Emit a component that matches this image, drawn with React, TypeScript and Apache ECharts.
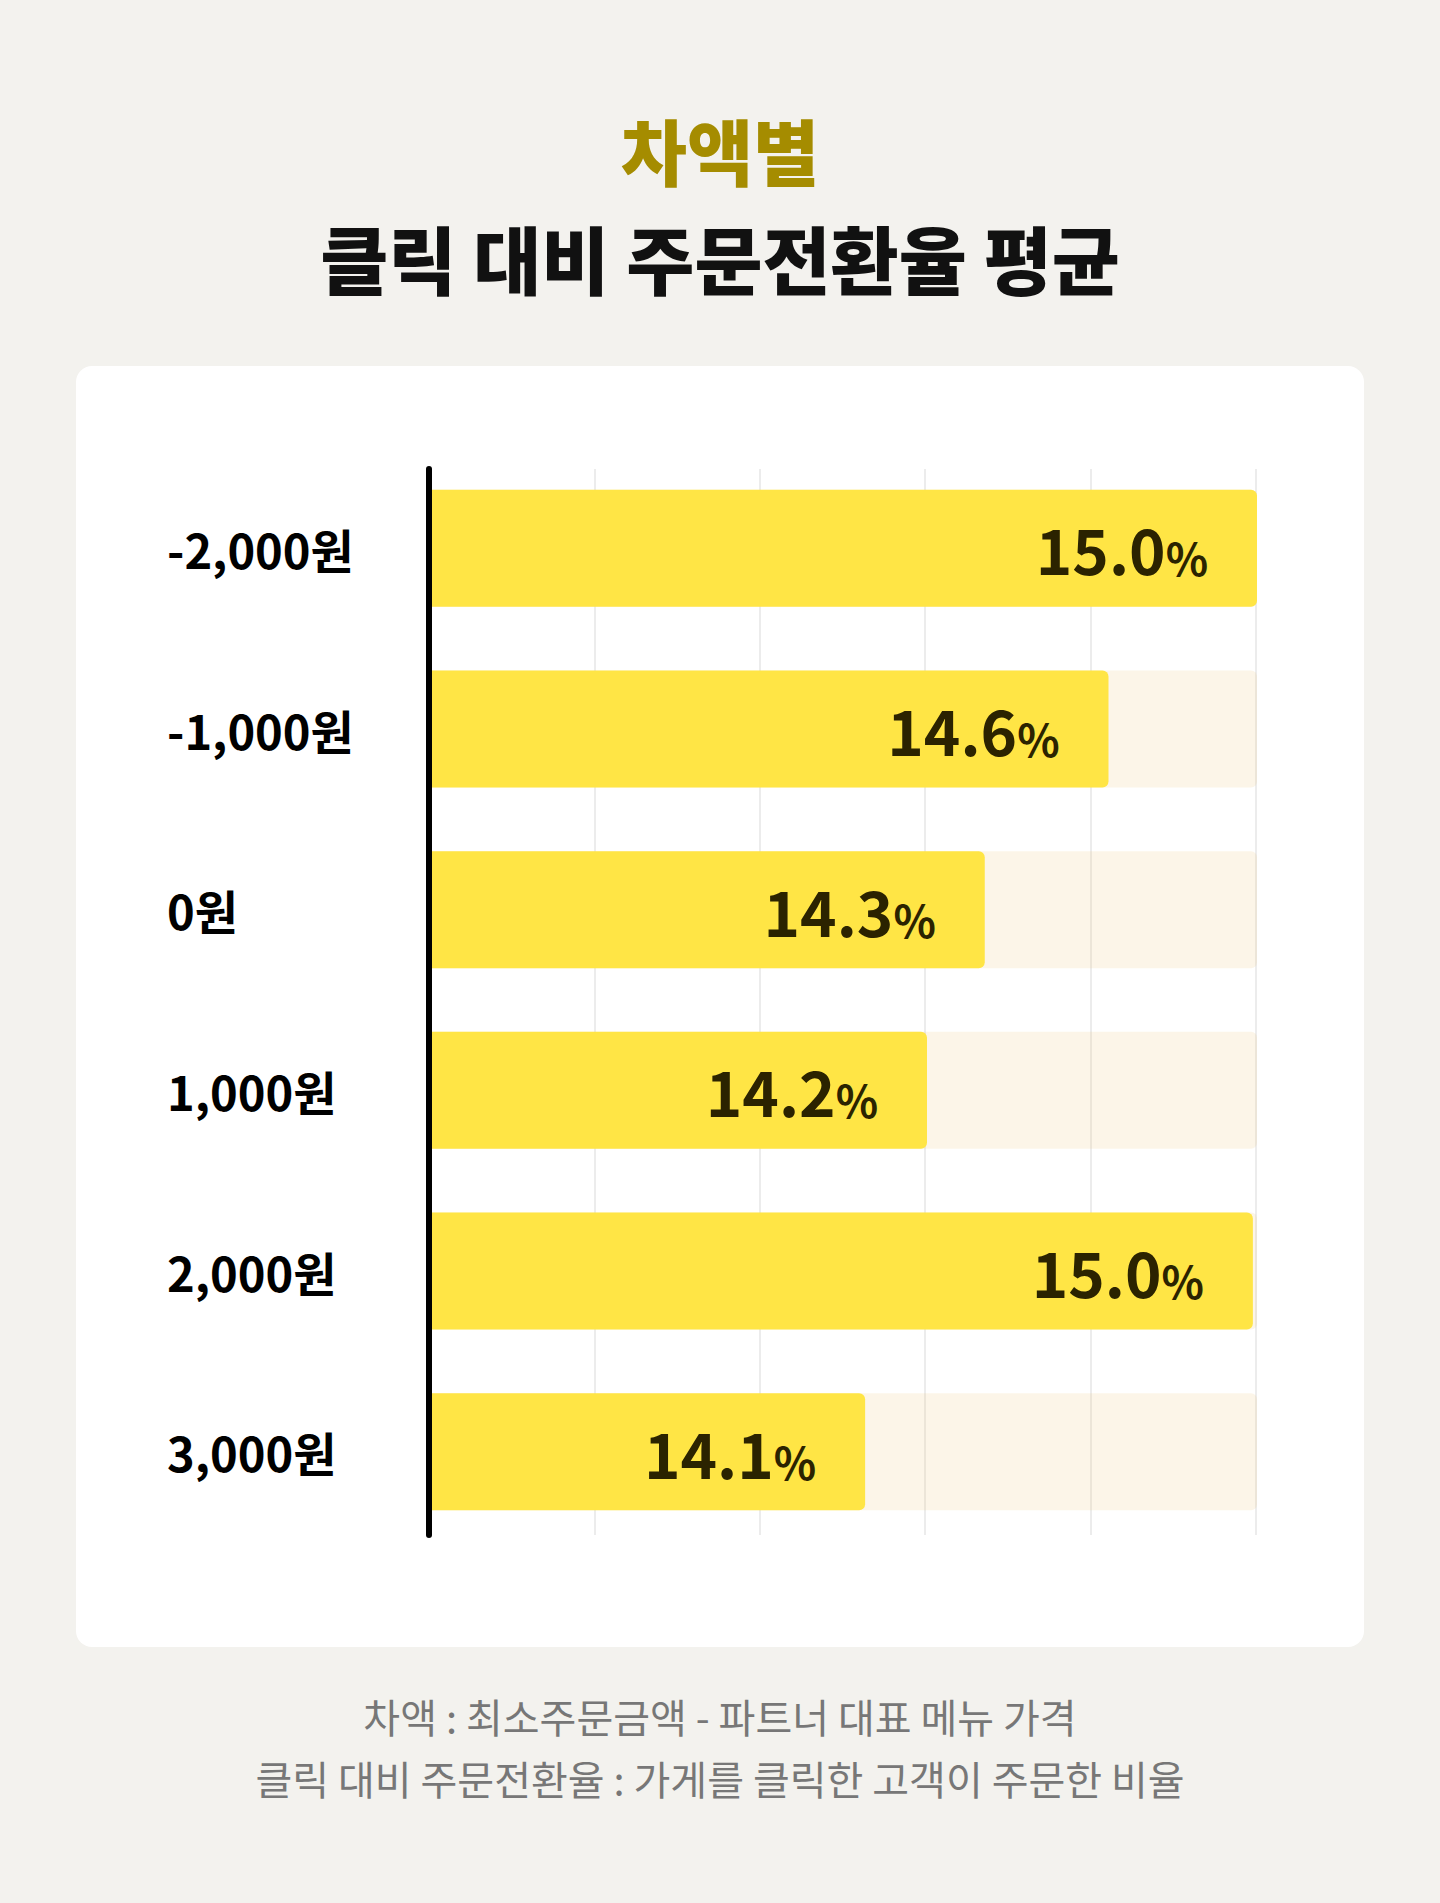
import { useEffect, useRef } from 'react'
import * as echarts from 'echarts'

// 차액 구간 (최소주문금액 - 대표 메뉴 가격)
const categories = ['-2,000원', '-1,000원', '0원', '1,000원', '2,000원', '3,000원']
// 클릭 대비 주문전환율 (%), labels show one decimal
const rates = [15.0, 14.64, 14.34, 14.2, 14.99, 14.05]
const axisMin = 13
const axisMax = 15
const gridSteps = 5

const titleTop = '차액별'
const titleMain = '클릭 대비 주문전환율 평균'
const notes = [
  '차액 : 최소주문금액 - 파트너 대표 메뉴 가격',
  '클릭 대비 주문전환율 : 가게를 클릭한 고객이 주문한 비율',
]

const FONT = "'Noto Sans CJK KR', 'Noto Sans', sans-serif"

export default function App() {
  const chartRef = useRef<HTMLDivElement>(null)

  useEffect(() => {
    if (!chartRef.current) return
    const chart = echarts.init(chartRef.current, null, { renderer: 'svg' })
    chart.setOption({
      animation: false,
      backgroundColor: 'transparent',
      graphic: [
        {
          type: 'text', x: 720, y: 148,
          style: {
            text: titleTop, fill: '#a58c00', font: `800 72px ${FONT}`,
            align: 'center', verticalAlign: 'middle', textAlign: 'center', textVerticalAlign: 'middle',
          },
        },
        {
          type: 'text', x: 720, y: 256,
          style: {
            text: titleMain, fill: '#111111', font: `800 74px ${FONT}`,
            align: 'center', verticalAlign: 'middle', textAlign: 'center', textVerticalAlign: 'middle',
          },
        },
        ...notes.map((t, i) => ({
          type: 'text', x: 720, y: 1716 + i * 62,
          style: {
            text: t, fill: '#777777', font: `400 40px ${FONT}`,
            align: 'center', verticalAlign: 'middle', textAlign: 'center', textVerticalAlign: 'middle',
          },
        })),
      ],
      grid: [
        { left: 429, right: 184, top: 469, bottom: 368 },
        { left: 432, right: 183, top: 458, bottom: 361 },
      ],
      xAxis: [
        {
          gridIndex: 0, type: 'value', min: 0, max: gridSteps, interval: 1,
          axisLine: { show: false }, axisTick: { show: false }, axisLabel: { show: false },
          splitLine: { show: true, lineStyle: { color: '#ececec', width: 2 } },
        },
        { gridIndex: 1, type: 'value', min: axisMin, max: axisMax, show: false },
      ],
      yAxis: [
        {
          gridIndex: 0, type: 'category', data: categories,
          axisLine: { show: true, lineStyle: { color: '#000', width: 6 } },
          axisTick: { show: false }, axisLabel: { show: false }, splitLine: { show: false },
        },
        {
          gridIndex: 1, type: 'category', data: categories, inverse: true,
          axisLine: { show: false }, axisTick: { show: false }, splitLine: { show: false },
          axisLabel: { align: 'left', margin: 265, fontSize: 47, fontWeight: 700, color: '#000', fontFamily: FONT },
        },
      ],
      series: [
        {
          type: 'bar',
          xAxisIndex: 1,
          yAxisIndex: 1,
          data: rates,
          barWidth: 117,
          itemStyle: { color: '#ffe545', borderRadius: [0, 6, 6, 0] },
          showBackground: true,
          backgroundStyle: { color: 'rgba(236,200,130,0.18)', borderRadius: [0, 6, 6, 0] },
          label: {
            show: true,
            position: 'insideRight',
            distance: 49,
            formatter: (p: any) => `{num|${Number(p.value).toFixed(1)}}{pct|%}`,
            rich: {
              num: { fontSize: 62, fontWeight: 700, color: '#2b2300', fontFamily: FONT, verticalAlign: 'bottom', lineHeight: 62 },
              pct: { fontSize: 44, fontWeight: 700, color: '#2b2300', fontFamily: FONT, verticalAlign: 'bottom', lineHeight: 50 },
            },
          },
        },
      ],
    })
    return () => chart.dispose()
  }, [])

  return (
    <div style={{ position: 'absolute', left: 0, top: 0, width: 1440, height: 1903, background: '#f3f2ee', overflow: 'hidden' }}>
      <div style={{ position: 'absolute', left: 76, top: 366, width: 1288, height: 1281, background: '#fff', borderRadius: 16 }} />
      <div ref={chartRef} style={{ position: 'absolute', left: 0, top: 0, width: 1440, height: 1903 }} />
    </div>
  )
}
